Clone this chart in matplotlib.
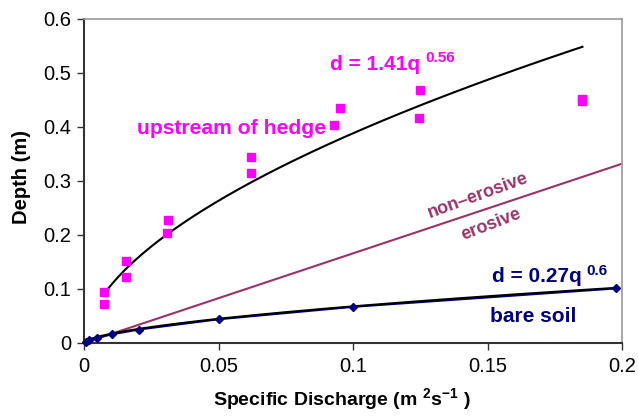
import numpy as np
import matplotlib
matplotlib.use("Agg")
import matplotlib.pyplot as plt

plt.rcParams['font.family'] = ['Liberation Sans', 'DejaVu Sans']
plt.rcParams['mathtext.fontset'] = 'custom'
plt.rcParams['mathtext.rm'] = 'Liberation Sans'
plt.rcParams['mathtext.bf'] = 'Liberation Sans:bold'

# Data: upstream of hedge
hedge_q = [0.0075, 0.0075, 0.0155, 0.0155, 0.0314, 0.0309, 0.0619, 0.0619,
           0.0930, 0.0952, 0.1250, 0.1247, 0.1853, 0.1853]
hedge_d = [0.094, 0.072, 0.152, 0.122, 0.228, 0.204, 0.344, 0.315,
           0.404, 0.436, 0.469, 0.417, 0.448, 0.452]
hedge_coef = 1.41
hedge_exp = 0.56

# Data: bare soil
bare_q = [0.0007, 0.002, 0.0049, 0.0103, 0.0204, 0.0501, 0.1001, 0.1976]
bare_d = [0.002, 0.006, 0.010, 0.016, 0.025, 0.044, 0.067, 0.101]
bare_coef = 0.27
bare_exp = 0.6

# Threshold line (non-erosive / erosive)
thr_q = [0.0, 0.2]
thr_d = [0.0, 0.332]

xticks = [0, 0.05, 0.1, 0.15, 0.2]
xticklabels = ['0', '0.05', '0.1', '0.15', '0.2']
yticks = [0, 0.1, 0.2, 0.3, 0.4, 0.5, 0.6]
yticklabels = ['0', '0.1', '0.2', '0.3', '0.4', '0.5', '0.6']

W, H = 638, 416
fig = plt.figure(figsize=(W / 100, H / 100), dpi=100)
ax = fig.add_axes([84 / W, 1 - 343 / H, (622 - 84) / W, (343 - 19) / H])

MAG = '#FF00FF'
NAVY = '#000080'
PLUM = '#993366'

# threshold
ax.plot(thr_q, thr_d, color=PLUM, lw=1.5, zorder=2)

# hedge trendline
qh = np.linspace(min(hedge_q), max(hedge_q), 200)
ax.plot(qh, hedge_coef * qh ** hedge_exp, color='black', lw=1.5, zorder=3)
ax.plot(hedge_q, hedge_d, 's', color=MAG, ms=5.5, mec=MAG, zorder=4, clip_on=False)

# bare soil
ax.plot(bare_q, bare_d, '-', color=NAVY, lw=1.5, zorder=3)
qb = np.linspace(min(bare_q), max(bare_q), 200)
ax.plot(qb, bare_coef * qb ** bare_exp, color='black', lw=1.5, zorder=4)
ax.plot(bare_q, bare_d, 'D', color=NAVY, ms=4.5, zorder=5, clip_on=False)

ax.set_xlim(0, 0.2)
ax.set_ylim(0, 0.6)
ax.set_xticks(xticks)
ax.set_xticklabels(xticklabels)
ax.set_yticks(yticks)
ax.set_yticklabels(yticklabels)
ax.tick_params(axis='both', direction='out', length=5, width=1, labelsize=14.5, color='#333333')
ax.tick_params(axis='x', pad=5)
ax.tick_params(axis='y', pad=4)

for s in ['left', 'bottom']:
    ax.spines[s].set_color('#333333')
    ax.spines[s].set_linewidth(1.5)
for s in ['top', 'right']:
    ax.spines[s].set_color('#999999')
    ax.spines[s].set_linewidth(1.2)

def ftxt(x, y, s, **kw):
    fig.text(x / W, 1 - y / H, s, **kw)

ftxt(22, 177, 'Depth (m)', fontsize=14.5, fontweight='bold', rotation=90, ha='center', va='center')
ftxt(342, 400, r'Specific Discharge (m $^{\mathbf{2}}$$\mathbf{s}$$^{\mathbf{-1}}$ )',
     ha='center', va='center', fontsize=14, fontweight='bold')

# hedge labels
ftxt(330, 64, 'd = 1.41q', color=MAG, fontsize=15, fontweight='bold', ha='left', va='center')
ftxt(425, 58, '0.56', color=MAG, fontsize=11, fontweight='bold', ha='left', va='center')
ftxt(137, 129, 'upstream of hedge', color=MAG, fontsize=15.2, fontweight='bold', ha='left', va='center')

# threshold labels
ftxt(478, 196, 'non\u2013erosive', color=PLUM, fontsize=13, fontweight='bold', ha='center', va='center',
     rotation=20, rotation_mode='anchor')
ftxt(491, 225, 'erosive', color=PLUM, fontsize=13, fontweight='bold', ha='center', va='center',
     rotation=21, rotation_mode='anchor')

# bare soil labels
ftxt(492, 276, 'd = 0.27q', color=NAVY, fontsize=15, fontweight='bold', ha='left', va='center')
ftxt(586, 271, '0.6', color=NAVY, fontsize=11, fontweight='bold', ha='left', va='center')
ftxt(490, 317, 'bare soil', color=NAVY, fontsize=15, fontweight='bold', ha='left', va='center')

fig.savefig('out.png', dpi=100)
